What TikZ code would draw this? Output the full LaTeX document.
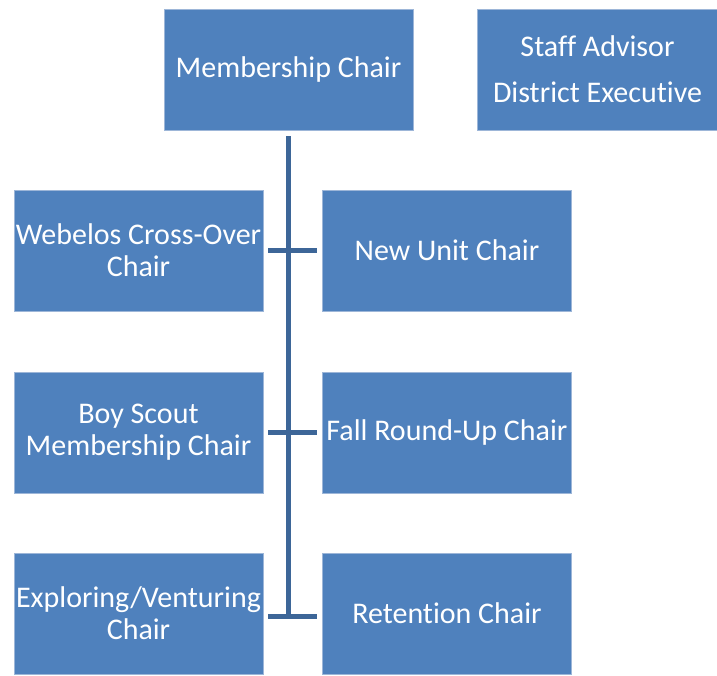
\documentclass[tikz,border=0pt]{standalone}
\usepackage{fontspec}
\setmainfont{Carlito}[Ligatures=NoCommon]
\usepackage{tikz}
\usetikzlibrary{positioning}

\definecolor{boxblue}{HTML}{4F81BD}
\definecolor{boxedge}{HTML}{9DB6D8}
\definecolor{linkblue}{HTML}{3D6698}

\begin{document}
\begin{tikzpicture}[
  x=1pt, y=-1pt,
  font=\fontsize{30}{32}\selectfont,
  poste/.style={
    draw=boxedge, line width=0.8pt, fill=boxblue, text=white,
    align=center, minimum width=249pt, minimum height=121pt,
    inner sep=0pt
  },
  lien/.style={draw=linkblue, line width=5.5pt}
]
  \useasboundingbox (0,0) rectangle (717,675);

  % Top row
  \node[poste] (membre) at (288.5,69.5) {Membership Chair};
  \node[poste, minimum width=241pt] (conseil) at (597.5,69.5)
    {Staff Advisor\\[14pt]District Executive};

  % Left column
  \node[poste] (webelos) at (138.5,250.5) {Webelos Cross-Over\\Chair};
  \node[poste] (scout)   at (138.5,432.5) {Boy Scout\\Membership Chair};
  \node[poste] (explore) at (138.5,613.5) {Exploring/Venturing\\Chair};

  % Right column
  \node[poste] (unite)    at (447,250.5) {New Unit Chair};
  \node[poste] (roundup)  at (447,432.5) {Fall Round-Up Chair};
  \node[poste] (retenue)  at (447,613.5) {Retention Chair};

  % Trunk and branches
  \coordinate (fintronc) at (membre.south |- explore.east);
  \draw[lien, shorten <=6pt] (membre.south) -- ([yshift=-3pt]fintronc);
  \draw[lien, shorten <=5pt, shorten >=5pt] (webelos.east) -- (unite.west);
  \draw[lien, shorten <=5pt, shorten >=5pt] (scout.east) -- (roundup.west);
  \draw[lien, shorten <=5pt, shorten >=5pt] ([yshift=-3pt]explore.east) -- ([yshift=-3pt]retenue.west);

\end{tikzpicture}
\end{document}
